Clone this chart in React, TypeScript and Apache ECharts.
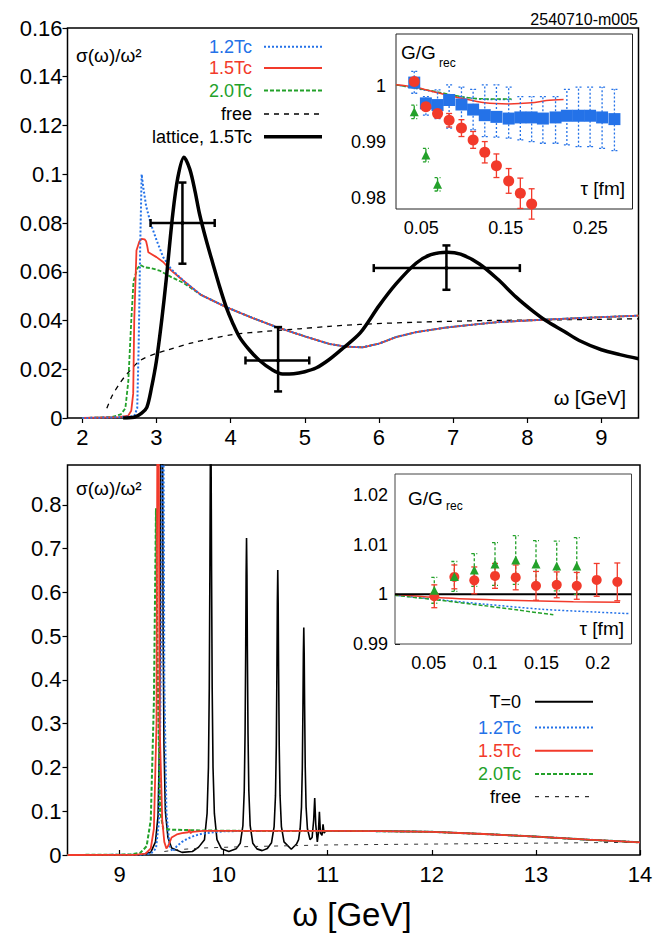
import React, { useEffect, useRef } from 'react';
import * as echarts from 'echarts';

const FONT = "'Liberation Sans', Arial, Helvetica, sans-serif";
const BLUE = '#2472e8';
const RED = '#f23a2b';
const GREEN = '#23a12a';

// ---------- top panel: sigma/omega^2 vs omega (charmonium) ----------
const topXTicks = [2, 3, 4, 5, 6, 7, 8, 9];
const topYTicks = [0, 0.02, 0.04, 0.06, 0.08, 0.1, 0.12, 0.14, 0.16];

const top12Head: [number, number][] = [
  [2.0, 0], [2.5, 0.0003], [2.7, 0.0008], [2.74, 0.004], [2.76, 0.03], [2.78, 0.07], [2.8, 0.1],
  [2.82, 0.095], [2.86, 0.087], [2.92, 0.08], [3.0, 0.073], [3.09, 0.066], [3.2, 0.061], [3.36, 0.0564],
];
const top15Head: [number, number][] = [
  [2.0, 0], [2.5, 0.0004], [2.62, 0.001], [2.66, 0.003], [2.686, 0.01], [2.7, 0.04], [2.73, 0.0687],
  [2.77, 0.0725], [2.8, 0.0735], [2.84, 0.0733], [2.86, 0.0725], [2.875, 0.0705], [2.89, 0.068],
  [3.0, 0.066], [3.09, 0.064], [3.2, 0.0605], [3.36, 0.0564],
];
const top20Head: [number, number][] = [
  [2.0, 0], [2.4, 0.0004], [2.52, 0.0015], [2.58, 0.004], [2.62, 0.015], [2.66, 0.04], [2.69, 0.056],
  [2.74, 0.0612], [2.78, 0.0628], [2.84, 0.0618], [2.92, 0.0615], [3.04, 0.0605], [3.2, 0.0578], [3.36, 0.0555],
];
const topTail: [number, number][] = [
  [3.6, 0.0505], [3.94, 0.0455], [4.3, 0.041], [4.62, 0.0373], [5.0, 0.0335], [5.33, 0.0304], [5.55, 0.0293],
  [5.78, 0.029], [6.0, 0.0305], [6.23, 0.0332], [6.5, 0.0352], [6.9, 0.0371], [7.3, 0.0384], [7.6, 0.0393],
  [8.0, 0.04], [8.25, 0.0404], [8.7, 0.041], [9.1, 0.0415], [9.5, 0.042],
];
const topFree: [number, number][] = [
  [2.33, 0.004], [2.4, 0.009], [2.5, 0.014], [2.6, 0.018], [2.78, 0.0236], [3.0, 0.0265], [3.13, 0.0277],
  [3.5, 0.031], [4.03, 0.0342], [4.5, 0.0356], [4.93, 0.0366], [5.33, 0.0376], [5.74, 0.0384], [6.5, 0.0393],
  [7.5, 0.04], [8.2, 0.0402], [9.0, 0.0405], [9.5, 0.0407],
];
const topLattice: [number, number][] = [
  [2.55, 0], [2.7, 0.0003], [2.8, 0.002], [2.87, 0.0044], [2.93, 0.012], [3.0, 0.0236], [3.07, 0.04],
  [3.13, 0.0564], [3.22, 0.0838], [3.29, 0.099], [3.37, 0.107], [3.45, 0.102], [3.52, 0.093], [3.58, 0.0838],
  [3.67, 0.073], [3.76, 0.0634], [3.85, 0.054], [3.94, 0.0455], [4.03, 0.0388], [4.12, 0.0332], [4.25, 0.028],
  [4.39, 0.0236], [4.55, 0.02], [4.7, 0.0181], [4.85, 0.0182], [5.0, 0.019], [5.15, 0.0205], [5.33, 0.024],
  [5.51, 0.0285], [5.75, 0.035], [6.0, 0.046], [6.23, 0.055], [6.5, 0.0635], [6.7, 0.067], [6.92, 0.068],
  [7.1, 0.0672], [7.35, 0.0633], [7.6, 0.057], [7.85, 0.0496], [8.05, 0.0445], [8.25, 0.04], [8.5, 0.0355],
  [8.7, 0.0318], [9.0, 0.028], [9.25, 0.026], [9.5, 0.0243],
];
// lattice points: omega, value, omegaLow, omegaHigh, valueLow, valueHigh
const latticePoints: number[][] = [
  [3.35, 0.08, 2.92, 3.785, 0.0633, 0.0966],
  [4.64, 0.0236, 4.2, 5.06, 0.0109, 0.0373],
  [6.91, 0.0615, 5.93, 7.9, 0.0526, 0.0708],
];

// ---------- top inset: G/Grec vs tau ----------
const insTopXTicks = [0.05, 0.15, 0.25];
const insTopYTicks = [0.98, 0.99, 1];
const insTopTauBlue = [0.0416, 0.0554, 0.0692, 0.0829, 0.0975, 0.1113, 0.1251, 0.1389, 0.1534, 0.1672, 0.1806, 0.1939, 0.2089, 0.2223, 0.2361, 0.2498, 0.264, 0.2786];
const insTopBlue = [1.0006, 0.9969, 0.9966, 0.9975, 0.9967, 0.9958, 0.9948, 0.9945, 0.9942, 0.9944, 0.9944, 0.9942, 0.9944, 0.9947, 0.9947, 0.9947, 0.9944, 0.9941];
const insTopBlueHi = [1.0026, 0.9981, 0.9993, 1.0002, 0.9998, 0.9994, 1.0002, 1.0002, 0.9998, 0.9981, 0.9981, 0.9981, 0.9981, 0.9994, 0.9998, 0.9998, 0.9998, 0.9994];
const insTopBlueLo = [0.9987, 0.9948, 0.9942, 0.9925, 0.9923, 0.9922, 0.991, 0.9909, 0.9907, 0.9904, 0.9901, 0.9898, 0.9898, 0.9895, 0.9892, 0.9892, 0.9889, 0.9885];
const insTopTauRed = [0.0416, 0.0554, 0.0692, 0.0829, 0.0975, 0.1113, 0.1251, 0.1389, 0.1534, 0.1672, 0.1806];
const insTopRed = [1.0008, 0.9963, 0.9951, 0.9939, 0.9925, 0.9904, 0.9882, 0.9858, 0.9831, 0.9809, 0.979];
const insTopRedErr = [0.0004, 0.0004, 0.0008, 0.0012, 0.0015, 0.0015, 0.0019, 0.0021, 0.0022, 0.0027, 0.0027];
const insTopTauGreen = [0.0416, 0.0554, 0.0692];
const insTopGreen = [0.9954, 0.9877, 0.9825];
const insTopGreenErr = [0.0012, 0.0012, 0.0012];
const insTopRedLine: [number, number][] = [[0.02, 1.0002], [0.0416, 0.9998], [0.0692, 0.9988], [0.0975, 0.9978], [0.1251, 0.997], [0.1534, 0.9968], [0.1806, 0.997], [0.198, 0.9974], [0.2184, 0.9976]];
const insTopGreenLine: [number, number][] = [[0.02, 1.0002], [0.0562, 0.9993], [0.0975, 0.9981], [0.1251, 0.9977], [0.1566, 0.9977]];
const insTopBlueLine: [number, number][] = [[0.02, 1.0002], [0.06, 0.9991], [0.1, 0.998], [0.13, 0.9976], [0.157, 0.9976]];

// ---------- bottom panel: bottomonium ----------
const botXTicks = [9, 10, 11, 12, 13, 14];
const botYTicks = [0, 0.1, 0.2, 0.3, 0.4, 0.5, 0.6, 0.7, 0.8];
const botTail: [number, number][] = [[11.0, 0.055], [11.5, 0.0545], [12.0, 0.053], [12.5, 0.048], [13.0, 0.042], [13.5, 0.035], [14.0, 0.029]];
const botT0: [number, number][] = [
  [8.5, 0], [9.2, 0], [9.3, 0.006], [9.345, 0.03], [9.37, 0.09], [9.383, 0.25], [9.391, 0.5], [9.397, 1.0],
  [9.405, 2.0], [9.413, 1.0], [9.419, 0.5], [9.427, 0.25], [9.44, 0.1], [9.465, 0.04], [9.5, 0.016], [9.6, 0.006],
  [9.7, 0.008], [9.76, 0.018], [9.816, 0.035], [9.841, 0.095], [9.854, 0.2], [9.862, 0.38], [9.868, 0.65],
  [9.872, 0.88], [9.876, 1.0], [9.88, 0.88], [9.884, 0.65], [9.89, 0.38], [9.898, 0.2], [9.911, 0.095],
  [9.936, 0.035], [9.98, 0.014], [10.05, 0.008], [10.12, 0.014], [10.16, 0.027], [10.185, 0.067],
  [10.198, 0.147], [10.206, 0.28], [10.212, 0.47], [10.216, 0.64], [10.22, 0.724], [10.224, 0.64],
  [10.228, 0.47], [10.234, 0.28], [10.242, 0.147], [10.255, 0.067], [10.28, 0.027], [10.32, 0.014],
  [10.37, 0.01], [10.42, 0.015], [10.46, 0.028], [10.485, 0.065], [10.498, 0.135], [10.506, 0.25],
  [10.512, 0.425], [10.516, 0.576], [10.52, 0.651], [10.524, 0.576], [10.528, 0.425], [10.534, 0.25],
  [10.542, 0.135], [10.555, 0.065], [10.58, 0.03], [10.65, 0.013], [10.7, 0.025], [10.72, 0.035],
  [10.735, 0.06], [10.748, 0.11], [10.756, 0.2], [10.762, 0.34], [10.766, 0.46], [10.77, 0.52], [10.774, 0.46],
  [10.778, 0.34], [10.784, 0.2], [10.792, 0.11], [10.805, 0.06], [10.83, 0.035], [10.85, 0.04], [10.865, 0.08],
  [10.875, 0.13], [10.885, 0.07], [10.9, 0.03], [10.91, 0.05], [10.92, 0.099], [10.93, 0.05], [10.945, 0.045],
  [10.955, 0.07], [10.965, 0.05], [10.98, 0.055],
];
const bot12: [number, number][] = [
  [8.5, 0], [9.2, 0.0005], [9.3, 0.003], [9.35, 0.015], [9.38, 0.08], [9.4, 0.5], [9.415, 1.5], [9.43, 0.4],
  [9.45, 0.1], [9.48, 0.02], [9.51, 0.008], [9.55, 0.02], [9.6, 0.03], [9.65, 0.037], [9.72, 0.044],
  [9.8, 0.049], [9.9, 0.052], [10.0, 0.054], [10.2, 0.055],
];
const bot15: [number, number][] = [
  [8.5, 0], [9.15, 0.0005], [9.25, 0.003], [9.3, 0.015], [9.33, 0.06], [9.355, 0.3], [9.37, 1.5], [9.385, 0.3],
  [9.41, 0.08], [9.43, 0.03], [9.45, 0.015], [9.47, 0.022], [9.5, 0.04], [9.55, 0.047], [9.6, 0.05],
  [9.66, 0.052], [9.67, 0.058], [9.68, 0.05], [9.7, 0.053], [9.8, 0.055],
];
const bot20: [number, number][] = [
  [8.5, 0], [9.1, 0.001], [9.2, 0.005], [9.26, 0.02], [9.3, 0.08], [9.33, 0.35], [9.35, 0.792], [9.37, 0.35],
  [9.39, 0.1], [9.42, 0.06], [9.5, 0.058], [9.8, 0.056], [10.2, 0.055],
];
const botFree: [number, number][] = [
  [9.43, 0.008], [9.55, 0.012], [9.8, 0.016], [10.2, 0.019], [10.6, 0.021], [11.0, 0.023], [12.0, 0.025], [13.0, 0.027], [14.0, 0.029],
];

// ---------- bottom inset ----------
const insBotXTicks = [0.05, 0.1, 0.15, 0.2];
const insBotYTicks = [0.99, 1, 1.01, 1.02];
const insBotTauRed = [0.0549, 0.0727, 0.0904, 0.1088, 0.1272, 0.1452, 0.1636, 0.1814, 0.1991, 0.2174];
const insBotRed = [0.9996, 1.0035, 1.0028, 1.0037, 1.0034, 1.0017, 1.0019, 1.0017, 1.0029, 1.0025];
const insBotRedErr = [0.0023, 0.0024, 0.0027, 0.0025, 0.0025, 0.0029, 0.0026, 0.0027, 0.0033, 0.0038];
const insBotTauGreen = [0.0549, 0.0727, 0.0904, 0.1088, 0.1272, 0.1452, 0.1636, 0.1814];
const insBotGreen = [1.0008, 1.0036, 1.0049, 1.0061, 1.0069, 1.0061, 1.0057, 1.0057];
const insBotGreenErr = [0.0026, 0.003, 0.0033, 0.0043, 0.0049, 0.0047, 0.005, 0.0057];
const insBotT0Line: [number, number][] = [[0.02, 1], [0.23, 1]];
const insBotRedLine: [number, number][] = [[0.02, 1.0], [0.06, 0.9993], [0.1192, 0.9988], [0.1784, 0.9985], [0.2198, 0.9984]];
const insBotGreenLine: [number, number][] = [[0.02, 0.9998], [0.06, 0.9988], [0.1, 0.9977], [0.13, 0.9968], [0.1606, 0.9959]];
const insBotBlueLine: [number, number][] = [[0.02, 0.9998], [0.06, 0.9989], [0.1, 0.998], [0.15, 0.997], [0.2, 0.9964], [0.2287, 0.9961]];

const topLegendLabels = ['1.2Tc', '1.5Tc', '2.0Tc', 'free', 'lattice, 1.5Tc'];
const botLegendLabels = ['T=0', '1.2Tc', '1.5Tc', '2.0Tc', 'free'];

const fmt = (v: number) => String(Number(v.toFixed(4)));

function axis(gridIndex: number, min: number, max: number, ticks: number[], o: any) {
  return {
    type: 'value', gridIndex, min, max,
    splitLine: { show: false },
    axisLine: { show: false },
    axisTick: { show: true, inside: o.inside, length: o.tickLen || 5, customValues: ticks, lineStyle: { color: '#000', width: o.tickW || 1.2 } },
    axisLabel: { show: true, customValues: ticks, formatter: fmt, color: '#000', fontFamily: FONT, fontSize: o.fs, margin: o.margin },
  };
}

function line(name: string, x: number, data: [number, number][], color: string, width: number, dash: any, z = 2, smooth: any = false) {
  return {
    type: 'line', name, xAxisIndex: x, yAxisIndex: x, data, showSymbol: false, symbol: 'none',
    smooth, clip: true, z,
    lineStyle: { color, width, type: dash ? dash : 'solid' },
  };
}

function errBars(idx: number, data: number[][], color: string, dash: number[] | null, width: number, cap: number) {
  return {
    type: 'custom', xAxisIndex: idx, yAxisIndex: idx, z: 3,
    encode: { x: 0, y: [1, 2] },
    data,
    renderItem: (_p: any, api: any) => {
      const x = api.value(0);
      const a = api.coord([x, api.value(1)]);
      const b = api.coord([x, api.value(2)]);
      const style: any = { stroke: color, lineWidth: width, fill: 'none' };
      if (dash) style.lineDash = dash;
      return {
        type: 'group',
        children: [
          { type: 'line', shape: { x1: a[0], y1: a[1], x2: b[0], y2: b[1] }, style },
          { type: 'line', shape: { x1: a[0] - cap, y1: a[1], x2: a[0] + cap, y2: a[1] }, style },
          { type: 'line', shape: { x1: b[0] - cap, y1: b[1], x2: b[0] + cap, y2: b[1] }, style },
        ],
      };
    },
  };
}

function scatter(idx: number, tau: number[], vals: number[], color: string, symbol: string, size: number) {
  return {
    type: 'scatter', xAxisIndex: idx, yAxisIndex: idx, z: 4, symbol, symbolSize: size,
    data: tau.map((t, i) => [t, vals[i]]),
    itemStyle: { color, opacity: 1 },
  };
}

function txt(x: number, y: number, text: string, size: number, color = '#000', align = 'left') {
  return {
    type: 'text', x, y, z: 50,
    style: { text, fill: color, font: `${size}px ${FONT}`, align, textAlign: align, verticalAlign: 'middle', textVerticalAlign: 'middle' },
  };
}
function seg(x1: number, x2: number, y: number, color: string, width: number, dash?: number[]) {
  const style: any = { stroke: color, lineWidth: width };
  if (dash) style.lineDash = dash;
  return { type: 'line', z: 50, shape: { x1, y1: y, x2, y2: y }, style };
}

export default function App() {
  const ref = useRef<HTMLDivElement>(null);
  useEffect(() => {
    if (!ref.current) return;
    const chart = echarts.init(ref.current, undefined, { renderer: 'svg' });

    const latticeSeries = {
      type: 'custom', xAxisIndex: 0, yAxisIndex: 0, z: 5,
      encode: { x: [0, 2, 3], y: [1, 4, 5] },
      data: latticePoints,
      renderItem: (_p: any, api: any) => {
        const c = api.coord([api.value(0), api.value(1)]);
        const l = api.coord([api.value(2), api.value(1)]);
        const r = api.coord([api.value(3), api.value(1)]);
        const lo = api.coord([api.value(0), api.value(4)]);
        const hi = api.coord([api.value(0), api.value(5)]);
        const style = { stroke: '#000', lineWidth: 2.5 };
        const cap = 4;
        return {
          type: 'group',
          children: [
            { type: 'line', shape: { x1: l[0], y1: l[1], x2: r[0], y2: r[1] }, style },
            { type: 'line', shape: { x1: lo[0], y1: lo[1], x2: hi[0], y2: hi[1] }, style },
            { type: 'line', shape: { x1: l[0], y1: l[1] - cap, x2: l[0], y2: l[1] + cap }, style },
            { type: 'line', shape: { x1: r[0], y1: r[1] - cap, x2: r[0], y2: r[1] + cap }, style },
            { type: 'line', shape: { x1: lo[0] - cap, y1: lo[1], x2: lo[0] + cap, y2: lo[1] }, style },
            { type: 'line', shape: { x1: hi[0] - cap, y1: hi[1], x2: hi[0] + cap, y2: hi[1] }, style },
            { type: 'circle', shape: { cx: c[0], cy: c[1], r: 2 }, style: { fill: '#000' } },
          ],
        };
      },
    };

    const topLegendStyles = [
      { c: BLUE, w: 2, d: [2, 2] }, { c: RED, w: 2 }, { c: GREEN, w: 2, d: [4, 2] },
      { c: '#000', w: 1.5, d: [5, 5] }, { c: '#000', w: 3.5 },
    ];
    const topLegendY = [46.7, 68, 90.5, 114, 136.7];
    const botLegendStyles = [
      { c: '#000', w: 2 }, { c: BLUE, w: 2, d: [2, 2] }, { c: RED, w: 2 }, { c: GREEN, w: 2, d: [4, 2] },
      { c: '#000', w: 1, d: [4, 6] },
    ];
    const botLegendColors = ['#000', BLUE, RED, GREEN, '#000'];
    const topLegendColors = [BLUE, RED, GREEN, '#000', '#000'];
    const botLegendY = [701.7, 727.5, 750.7, 774, 796.7];

    const graphics: any[] = [];
    topLegendLabels.forEach((s, i) => {
      graphics.push(txt(252, topLegendY[i], s, 18, topLegendColors[i], 'right'));
      const st = topLegendStyles[i];
      graphics.push(seg(264, 322, topLegendY[i], st.c, st.w, st.d));
    });
    botLegendLabels.forEach((s, i) => {
      graphics.push(txt(521, botLegendY[i], s, 18, botLegendColors[i], 'right'));
      const st = botLegendStyles[i];
      graphics.push(seg(535, 593, botLegendY[i], st.c, st.w, st.d));
    });
    graphics.push(txt(638, 19, '2540710-m005', 16, '#000', 'right'));
    graphics.push(txt(76, 55, 'σ(ω)/ω²', 19));
    graphics.push(txt(76, 488, 'σ(ω)/ω²', 19));
    graphics.push(txt(401, 52.5, 'G/G', 19));
    graphics.push(txt(439, 63, 'rec', 12));
    graphics.push(txt(408, 498, 'G/G', 19));
    graphics.push(txt(446, 505.5, 'rec', 12));
    graphics.push(txt(625, 188, 'τ [fm]', 19, '#000', 'right'));
    graphics.push(txt(624, 628, 'τ [fm]', 19, '#000', 'right'));
    graphics.push(txt(626, 398, 'ω [GeV]', 20, '#000', 'right'));
    graphics.push(txt(352, 914, 'ω [GeV]', 33, '#000', 'center'));

    const option: any = {
      animation: false,
      backgroundColor: '#fff',
      grid: [
        { left: 67.5, top: 28, width: 571, height: 390, show: true, borderColor: '#000', borderWidth: 1.5, backgroundColor: 'transparent', containLabel: false },
        { left: 396, top: 34, width: 236.5, height: 175, show: true, borderColor: '#222', borderWidth: 1, backgroundColor: '#fff', z: 1 },
        { left: 67.5, top: 465, width: 572.5, height: 390, show: true, borderColor: '#000', borderWidth: 1.5, backgroundColor: 'transparent' },
        { left: 395, top: 474, width: 236.5, height: 170, show: true, borderColor: '#444', borderWidth: 1, backgroundColor: '#fff', z: 1 },
      ],
      xAxis: [
        axis(0, 1.8, 9.5, topXTicks, { inside: false, fs: 22, margin: 8 }),
        axis(1, 0.02, 0.3, insTopXTicks, { inside: true, fs: 18, margin: 10, tickLen: 5, tickW: 1 }),
        axis(2, 8.5, 14, botXTicks, { inside: true, fs: 22, margin: 8 }),
        axis(3, 0.02, 0.23, insBotXTicks, { inside: true, fs: 18, margin: 10, tickLen: 5, tickW: 1 }),
      ],
      yAxis: [
        axis(0, 0, 0.16, topYTicks, { inside: false, fs: 22, margin: 5, tickLen: 5 }),
        axis(1, 0.9781, 1.00925, insTopYTicks, { inside: true, fs: 18, margin: 10, tickLen: 5, tickW: 1 }),
        axis(2, 0, 0.891, botYTicks, { inside: false, fs: 22, margin: 6, tickLen: 5 }),
        axis(3, 0.99, 1.0242, insBotYTicks, { inside: true, fs: 18, margin: 7, tickLen: 5, tickW: 1 }),
      ],
      series: [
        // top main
        line('free', 0, topFree, '#000', 1.3, [5, 5], 2, 0.3),
        line('2.0Tc', 0, [...top20Head, ...topTail], GREEN, 1.8, [4, 2]),
        line('1.5Tc', 0, [...top15Head, ...topTail], RED, 1.8, null),
        line('1.2Tc', 0, [...top12Head, ...topTail], BLUE, 2, [2, 2]),
        line('lattice, 1.5Tc', 0, topLattice, '#000', 3.5, null, 4, 0.3),
        latticeSeries,
        // top inset
        line('in-1.2', 1, insTopBlueLine, BLUE, 1.5, [2, 2], 2, 0.3),
        line('in-2.0', 1, insTopGreenLine, GREEN, 1.5, [4, 2], 2, 0.3),
        line('in-1.5', 1, insTopRedLine, RED, 1.5, null, 2, 0.3),
        errBars(1, insTopTauBlue.map((t, i) => [t, insTopBlueLo[i], insTopBlueHi[i]]), BLUE, [2, 2], 1.3, 3),
        errBars(1, insTopTauRed.map((t, i) => [t, insTopRed[i] - insTopRedErr[i], insTopRed[i] + insTopRedErr[i]]), RED, null, 1.3, 3),
        errBars(1, insTopTauGreen.map((t, i) => [t, insTopGreen[i] - insTopGreenErr[i], insTopGreen[i] + insTopGreenErr[i]]), GREEN, [3, 2], 1.3, 3),
        scatter(1, insTopTauBlue, insTopBlue, BLUE, 'rect', 12),
        scatter(1, insTopTauRed, insTopRed, RED, 'circle', 11),
        scatter(1, insTopTauGreen, insTopGreen, GREEN, 'triangle', 9),
        // bottom main
        line('T=0', 2, [...botT0, ...botTail], '#000', 1.6, null),
        line('free', 2, botFree, '#333', 1, [4, 6]),
        line('1.2Tc', 2, [...bot12, ...botTail], BLUE, 2, [2, 2]),
        line('2.0Tc', 2, [...bot20, ...botTail], GREEN, 2, [4, 2]),
        line('1.5Tc', 2, [...bot15, ...botTail], RED, 1.8, null),
        // bottom inset
        line('in-1.2', 3, insBotBlueLine, BLUE, 1.5, [2, 2], 2, 0.3),
        line('in-2.0', 3, insBotGreenLine, GREEN, 1.5, [4, 2], 2, 0.3),
        line('in-1.5', 3, insBotRedLine, RED, 1.5, null, 2, 0.3),
        line('in-T0', 3, insBotT0Line, '#000', 2, null),
        errBars(3, insBotTauGreen.map((t, i) => [t, insBotGreen[i] - insBotGreenErr[i], insBotGreen[i] + insBotGreenErr[i]]), GREEN, [3, 2], 1.3, 3),
        errBars(3, insBotTauRed.map((t, i) => [t, insBotRed[i] - insBotRedErr[i], insBotRed[i] + insBotRedErr[i]]), RED, null, 1.3, 3),
        scatter(3, insBotTauRed, insBotRed, RED, 'circle', 10),
        scatter(3, insBotTauGreen, insBotGreen, GREEN, 'triangle', 9),
      ],
      graphic: graphics,
    };
    chart.setOption(option);
    return () => chart.dispose();
  }, []);
  return <div ref={ref} style={{ position: 'fixed', left: 0, top: 0, width: 664, height: 933, background: '#fff' }} />;
}
